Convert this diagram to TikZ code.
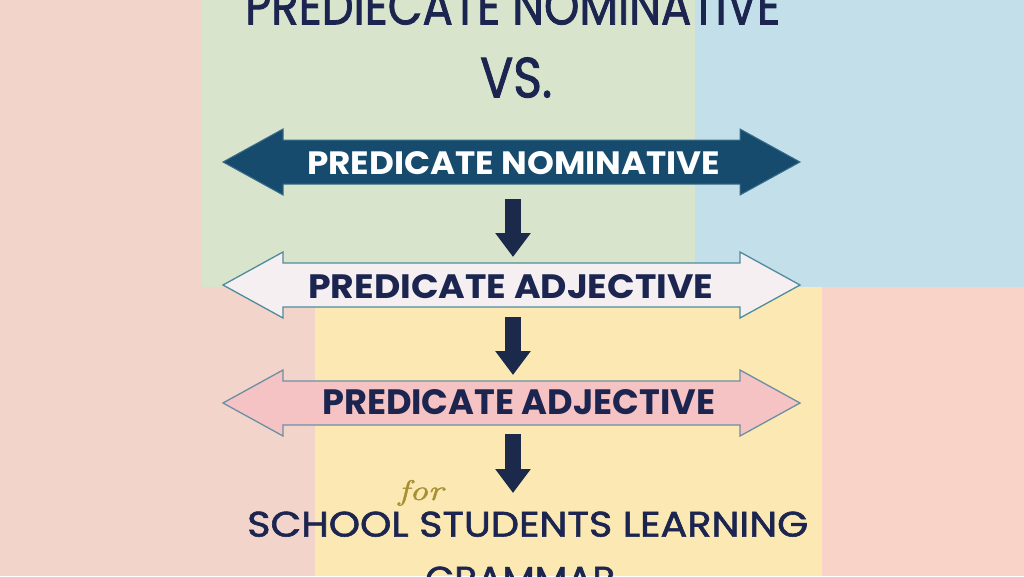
\documentclass[tikz,border=0pt]{standalone}
\usepackage{graphicx}
\usepackage{fontspec}
\setmainfont{Poppins}
\newfontfamily\medfont{Poppins}[FakeBold=1.6]
\usetikzlibrary{arrows.meta}
\definecolor{bgpink}{HTML}{F2D4CA}
\definecolor{bgpinkr}{HTML}{F9D2C8}
\definecolor{bggreen}{HTML}{D8E4CC}
\definecolor{bgblue}{HTML}{C3E0EA}
\definecolor{bgyellow}{HTML}{FBE8B2}
\definecolor{navy}{HTML}{1B2550}
\definecolor{darkarrow}{HTML}{164B6E}
\definecolor{darkedge}{HTML}{3A6D8A}
\definecolor{whitefill}{HTML}{F5EFF2}
\definecolor{tealedge}{HTML}{4F8C9B}
\definecolor{pinkfill}{HTML}{F5C3C3}
\definecolor{pinkedge}{HTML}{6C8FA3}
\definecolor{gold}{HTML}{A89030}
\definecolor{downcol}{HTML}{1B2A4A}
\newcommand\fitbox[3]{\resizebox{#1pt}{#2pt}{#3}}
\newcommand\dblarr[2]{\draw[#1] (223,#2) -- (283,{#2-33}) -- (283,{#2-22}) -- (740,{#2-22}) -- (740,{#2-33}) -- (800,#2) -- (740,{#2+33}) -- (740,{#2+22}) -- (283,{#2+22}) -- (283,{#2+33}) -- cycle;}
\tikzset{
  txt/.style={inner sep=0pt, anchor=south west, text=navy},
  bigarrowA/.style={fill=darkarrow, draw=darkedge, line width=1pt, line join=miter},
  bigarrowB/.style={fill=whitefill, draw=tealedge, line width=1.3pt, line join=miter},
  bigarrowC/.style={fill=pinkfill, draw=pinkedge, line width=1.3pt, line join=miter},
  downarr/.style={draw=downcol, line width=16pt, -{Triangle[width=34pt,length=24pt]}}
}
\begin{document}
\begin{tikzpicture}[x=1pt,y=-1pt]
\useasboundingbox (0,0) rectangle (1024,576);
% background blocks
\fill[bgpink] (0,0) rectangle (1024,576);
\fill[bggreen] (202,0) rectangle (695,287);
\fill[bgblue] (695,0) rectangle (1024,287);
\fill[bgyellow] (315,287) rectangle (822,576);
\fill[bgpinkr] (822,287) rectangle (1024,576);
% titles
\node[txt] (title) at (245,25) {\fitbox{535}{37}{\medfont PREDIECATE NOMINATIVE}};
\node[txt] (vs) at (480,98) {\fitbox{72}{40}{\medfont VS.}};
% double arrows
\dblarr{bigarrowA}{162}
\dblarr{bigarrowB}{285}
\dblarr{bigarrowC}{403}
\node[txt, text=white] (pn) at (307,175) {\fitbox{413}{23}{\bfseries PREDICATE NOMINATIVE}};
\node[txt] (pa1) at (308,299) {\fitbox{405}{24}{\bfseries PREDICATE ADJECTIVE}};
\node[txt] (pa2) at (322,415) {\fitbox{393}{25}{\bfseries PREDICATE ADJECTIVE}};
% down arrows
\coordinate (d1s) at (513,199);
\coordinate (d1e) at (513,257);
\coordinate (d2s) at (513,317);
\coordinate (d2e) at (513,375);
\coordinate (d3s) at (513,434);
\coordinate (d3e) at (513,493);
\draw[downarr] (d1s) -- (d1e);
\draw[downarr] (d2s) -- (d2e);
\draw[downarr] (d3s) -- (d3e);
% bottom text
\node[txt] (school) at (247,537) {\fitbox{561}{25}{\medfont SCHOOL STUDENTS LEARNING}};
\node[txt, text=gold] (for) at (398,506) {\fitbox{45}{20}{\fontspec{Latin Modern Roman}[FakeBold=1]\itshape for}};
\node[txt] (grammar) at (425,592) {\fitbox{190}{25}{\medfont GRAMMAR}};
\end{tikzpicture}
\end{document}
